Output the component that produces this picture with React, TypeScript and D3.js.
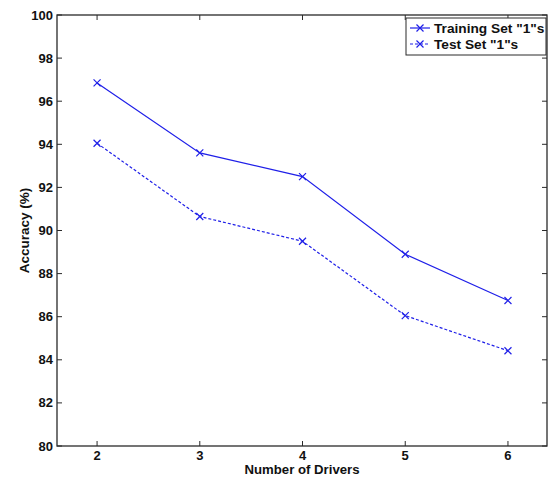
import React from "react";
import * as d3 from "d3";

const drivers = [2, 3, 4, 5, 6];
const trainingSet = [96.85, 93.6, 92.5, 88.9, 86.75];
const testSet = [94.05, 90.65, 89.5, 86.05, 84.42];
const yTicks = [80, 82, 84, 86, 88, 90, 92, 94, 96, 98, 100];
const xTicks = [2, 3, 4, 5, 6];
const seriesNames = ['Training Set "1"s', 'Test Set "1"s'];

const W = 550, H = 477;
const L = 57, R = 547, T = 15, B = 446;
const FONT = "Liberation Sans, Arial, sans-serif";
const BLUE = "#1f1fe8";

export default function App() {
  const x = d3.scaleLinear().domain([1.61, 6.38]).range([L, R]);
  const y = d3.scaleLinear().domain([80, 100]).range([B, T]);
  const line = d3.line<number>().x((_, i) => x(drivers[i])).y((d) => y(d));
  const series = [
    { name: seriesNames[0], vals: trainingSet, dash: undefined as string | undefined },
    { name: seriesNames[1], vals: testSet, dash: "3,2" },
  ];
  const tl = 5;
  const frame = "#2a2a2a";
  const marker = (cx: number, cy: number, k: string) => (
    <path key={k} d={`M${cx - 3.5},${cy - 3.5}L${cx + 3.5},${cy + 3.5}M${cx - 3.5},${cy + 3.5}L${cx + 3.5},${cy - 3.5}`} stroke={BLUE} strokeWidth={1.2} fill="none" />
  );
  return (
    <svg width={W} height={H} style={{ position: "absolute", left: 0, top: 0, background: "#fff" }}>
      <rect x={0} y={0} width={W} height={H} fill="#fff" />
      {yTicks.map((t) => (
        <g key={"y" + t}>
          <line x1={L} x2={L + tl} y1={y(t)} y2={y(t)} stroke={frame} strokeWidth={1} />
          <line x1={R} x2={R - tl} y1={y(t)} y2={y(t)} stroke={frame} strokeWidth={1} />
          <text x={L - 4} y={y(t)} dy="0.35em" textAnchor="end" fontFamily={FONT} fontWeight="bold" fontSize={13} fill="#111">{t}</text>
        </g>
      ))}
      {xTicks.map((t) => (
        <g key={"x" + t}>
          <line x1={x(t)} x2={x(t)} y1={B} y2={B - tl} stroke={frame} strokeWidth={1} />
          <line x1={x(t)} x2={x(t)} y1={T} y2={T + tl} stroke={frame} strokeWidth={1} />
          <text x={x(t)} y={B + 13.5} textAnchor="middle" fontFamily={FONT} fontWeight="bold" fontSize={13} fill="#111">{t}</text>
        </g>
      ))}
      <rect x={L} y={T} width={R - L} height={B - T} fill="none" stroke={frame} strokeWidth={1.3} />
      {series.map((s, si) => (
        <g key={s.name}>
          <path d={line(s.vals) || ""} fill="none" stroke={BLUE} strokeWidth={1.2} strokeDasharray={s.dash} />
          {s.vals.map((v, i) => marker(x(drivers[i]), y(v), `${si}-${i}`))}
        </g>
      ))}
      <text x={(L + R) / 2} y={474} textAnchor="middle" fontFamily={FONT} fontWeight="bold" fontSize={13.2} fill="#111">Number of Drivers</text>
      <text transform={`translate(29,${(T + B) / 2}) rotate(-90)`} textAnchor="middle" fontFamily={FONT} fontWeight="bold" fontSize={13.5} fill="#111">Accuracy (%)</text>
      <rect x={406} y={18} width={140} height={37} fill="#fff" stroke={frame} strokeWidth={1} />
      {series.map((s, i) => {
        const ly = 28 + i * 16;
        return (
          <g key={"lg" + i}>
            <line x1={410} x2={430} y1={ly} y2={ly} stroke={BLUE} strokeWidth={1.2} strokeDasharray={s.dash} />
            {marker(420, ly, "lm" + i)}
            <text x={434} y={ly} dy="0.35em" fontFamily={FONT} fontWeight="bold" fontSize={13.7} fill="#111">{s.name}</text>
          </g>
        );
      })}
    </svg>
  );
}
